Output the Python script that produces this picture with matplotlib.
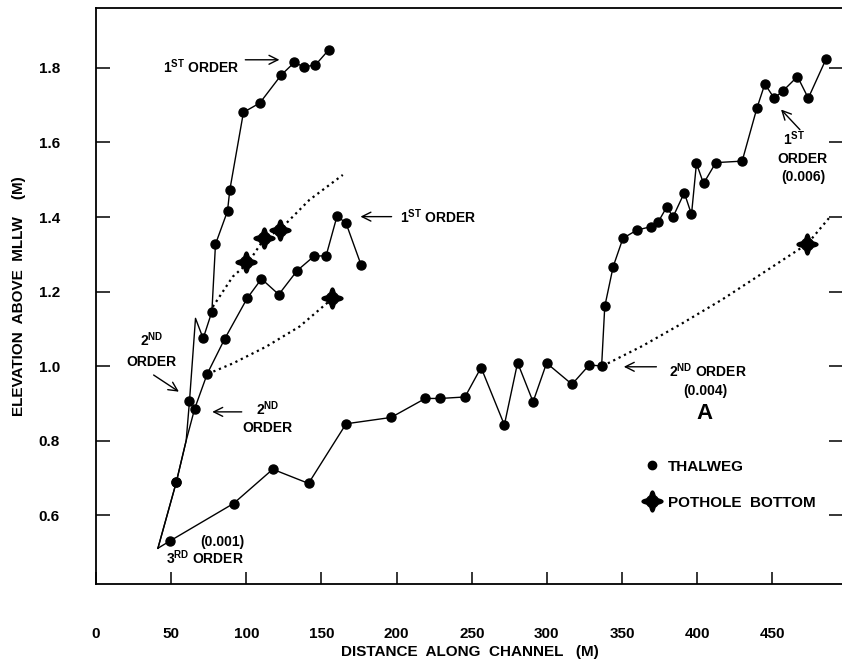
import numpy as np
import matplotlib
matplotlib.use("Agg")
import matplotlib.pyplot as plt
from matplotlib.path import Path
from matplotlib.lines import Line2D

plt.rcParams['font.family'] = ['Liberation Sans', 'DejaVu Sans']
plt.rcParams['font.weight'] = 'bold'
plt.rcParams['axes.labelweight'] = 'bold'
plt.rcParams['mathtext.fontset'] = 'custom'
plt.rcParams['mathtext.rm'] = 'Liberation Sans:bold'
plt.rcParams['mathtext.bf'] = 'Liberation Sans:bold'
plt.rcParams['mathtext.it'] = 'Liberation Sans:bold'

# thalweg profiles (distance m, elevation m above MLLW)
steep_x = [41.2, 53.4, 60.0, 62.2, 66.2, 71.3, 77.1, 79.5, 87.5, 89.0, 98.1, 109.0, 123.2, 132.0, 138.2, 146.0, 154.7]
steep_y = [0.511, 0.688, 0.80, 0.906, 1.128, 1.074, 1.146, 1.327, 1.416, 1.472, 1.681, 1.706, 1.781, 1.815, 1.803, 1.808, 1.848]
steep_pts = [1, 3, 5, 6, 7, 8, 9, 10, 11, 12, 13, 14, 15, 16]

mid_x = [41.2, 53.4, 60.0, 65.6, 74.0, 85.5, 100.6, 110.1, 121.6, 133.8, 145.1, 153.1, 160.4, 166.4, 176.4]
mid_y = [0.511, 0.688, 0.80, 0.885, 0.979, 1.072, 1.182, 1.234, 1.192, 1.256, 1.295, 1.296, 1.403, 1.383, 1.271]
mid_pts = [1, 3, 4, 5, 6, 7, 8, 9, 10, 11, 12, 13, 14]

long_x = [41.2, 49.4, 91.5, 117.6, 141.4, 166.4, 196.3, 219.1, 229.1, 245.5, 256.2, 271.7, 280.5,
          290.8, 299.8, 316.7, 328.2, 336.4, 338.5, 344.1, 350.6, 359.9, 369.2, 374.1, 379.6, 384.0,
          391.4, 396.2, 399.5, 404.2, 412.4, 429.9, 439.7, 445.0, 451.2, 457.2, 466.7, 473.9, 485.6]
long_y = [0.511, 0.531, 0.631, 0.723, 0.685, 0.845, 0.862, 0.913, 0.913, 0.917, 0.996, 0.842, 1.009,
          0.904, 1.008, 0.951, 1.003, 1.0, 1.16, 1.267, 1.343, 1.365, 1.374, 1.387, 1.426, 1.401,
          1.465, 1.407, 1.544, 1.490, 1.546, 1.550, 1.692, 1.757, 1.719, 1.739, 1.777, 1.719, 1.823]

# pothole bottoms
pot_x = [99.9, 112.1, 122.1, 157.1, 472.8]
pot_y = [1.278, 1.344, 1.365, 1.182, 1.328]

# dotted pothole trend curves
trend1_x = [77.7, 91.0, 101.0, 112.1, 122.1, 142.0, 164.2]
trend1_y = [1.159, 1.24, 1.276, 1.343, 1.365, 1.446, 1.513]
trend2_x = [74.4, 91.0, 113.2, 135.4, 157.5]
trend2_y = [0.979, 1.007, 1.052, 1.106, 1.182]
trend3_x = [337.0, 363.6, 390.2, 416.8, 443.4, 473.3, 488.9]
trend3_y = [1.0, 1.054, 1.115, 1.179, 1.249, 1.328, 1.403]

xticks = [0, 50, 100, 150, 200, 250, 300, 350, 400, 450]
yticks = [0.6, 0.8, 1.0, 1.2, 1.4, 1.6, 1.8]

# four-spiked marker for pothole bottoms
th = np.linspace(0, 2 * np.pi, 241)
rr = 0.58 + 0.42 * np.abs(np.cos(2 * th)) ** 6
pot_marker = Path(np.column_stack([rr * np.cos(th), rr * np.sin(th)]), closed=True)

fig = plt.figure(figsize=(8.42, 6.63), dpi=100)
ax = fig.add_axes([96 / 842, 1 - 584 / 663, 747 / 842, 576 / 663])

dot = dict(marker='o', ms=6.5, color='black', mfc='black', mec='black')
ax.plot(steep_x, steep_y, lw=1.0, markevery=steep_pts, **dot)
ax.plot(mid_x, mid_y, lw=1.0, markevery=mid_pts, **dot)
ax.plot(long_x, long_y, lw=1.0, markevery=list(range(1, len(long_x))), **dot)

for tx, ty in [(trend1_x, trend1_y), (trend2_x, trend2_y), (trend3_x, trend3_y)]:
    ax.plot(tx, ty, color='black', lw=1.6, linestyle=(0, (1, 1.7)))

ax.plot(pot_x, pot_y, linestyle='none', marker=pot_marker, ms=15, color='black')

ax.set_xlim(0, 497)
ax.set_ylim(0.415, 1.961)
ax.set_xticks(xticks)
ax.set_xticklabels([str(v) for v in xticks])
ax.set_yticks(yticks)
ax.set_yticklabels([f'{v:.1f}' for v in yticks])
ax.tick_params(axis='x', direction='in', length=9, width=1.1, pad=31, labelsize=11)
ax.tick_params(axis='y', direction='in', length=10, width=1.1, pad=26, labelsize=11,
               right=True)
for s in ['left', 'bottom', 'top']:
    ax.spines[s].set_linewidth(1.3)
ax.spines['right'].set_visible(False)

ax.set_xlabel('DISTANCE  ALONG  CHANNEL   (M)', fontsize=11, labelpad=3)
ax.set_ylabel('ELEVATION  ABOVE  MLLW    (M)', fontsize=11, labelpad=9)

arr = dict(arrowstyle='->', lw=1.0, color='black', mutation_scale=16)
fs = 10

ax.text(44.3, 1.803, r'1$^{\mathrm{ST}}$ ORDER', fontsize=fs, ha='left', va='center')
ax.annotate('', xy=(123.9, 1.822), xytext=(97.5, 1.822), arrowprops=arr)

ax.annotate('', xy=(174.1, 1.401), xytext=(198.5, 1.401), arrowprops=arr)
ax.text(202, 1.401, r'1$^{\mathrm{ST}}$ ORDER', fontsize=fs, ha='left', va='center')

ax.text(36.8, 1.07, r'2$^{\mathrm{ND}}$', fontsize=fs, ha='center', va='center')
ax.text(36.8, 1.011, 'ORDER', fontsize=fs, ha='center', va='center')
ax.annotate('', xy=(56.7, 0.927), xytext=(36.8, 0.98), arrowprops=arr)

ax.text(114.2, 0.886, r'2$^{\mathrm{ND}}$', fontsize=fs, ha='center', va='center')
ax.text(114.2, 0.835, 'ORDER', fontsize=fs, ha='center', va='center')
ax.annotate('', xy=(75.5, 0.877), xytext=(98.8, 0.877), arrowprops=arr)

ax.text(84.4, 0.528, '(0.001)', fontsize=fs, ha='center', va='center')
ax.text(72.8, 0.486, r'3$^{\mathrm{RD}}$ ORDER', fontsize=fs, ha='center', va='center')

ax.text(464.8, 1.611, r'1$^{\mathrm{ST}}$', fontsize=fs, ha='center', va='center')
ax.text(470.0, 1.555, 'ORDER', fontsize=fs, ha='center', va='center')
ax.text(470.5, 1.508, '(0.006)', fontsize=fs, ha='center', va='center')
ax.annotate('', xy=(454.5, 1.694), xytext=(469.6, 1.629), arrowprops=arr)

ax.annotate('', xy=(349.3, 0.998), xytext=(374.7, 0.998), arrowprops=arr)
ax.text(406.9, 0.987, r'2$^{\mathrm{ND}}$ ORDER', fontsize=fs, ha='center', va='center')
ax.text(405.2, 0.933, '(0.004)', fontsize=fs, ha='center', va='center')
ax.text(404.7, 0.873, 'A', fontsize=16, ha='center', va='center')

handles = [Line2D([], [], linestyle='none', marker='o', ms=6, color='black'),
           Line2D([], [], linestyle='none', marker=pot_marker, ms=15, color='black')]
ax.legend(handles, ['THALWEG', 'POTHOLE  BOTTOM'], loc='upper left', bbox_to_anchor=(0.713, 0.24),
          frameon=False, fontsize=11, handlelength=1.2, handletextpad=0.5, labelspacing=1.45)

fig.savefig('out.png', dpi=100)
